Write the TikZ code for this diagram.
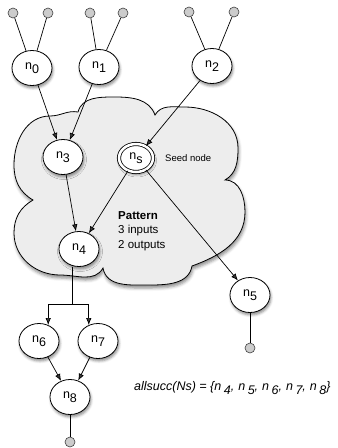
\documentclass[tikz,border=0pt]{standalone}
\usepackage{fontspec}
\setmainfont{Liberation Sans}
\usetikzlibrary{shapes.geometric,arrows.meta,shadows.blur}

\newcommand{\nsub}[1]{n\raisebox{-3.5pt}{#1}}
\newcommand{\nsucc}[1]{n\kern2.5pt\raisebox{-4pt}{#1}}

\begin{document}
\begin{tikzpicture}[x=1pt, y=1pt,
    vert/.style={ellipse, draw, line width=0.8pt, fill=white,
        minimum width=40pt, minimum height=35pt, inner sep=0pt,
        font=\fontsize{12.5}{14}\selectfont,
        blur shadow={shadow xshift=1pt, shadow yshift=-2.5pt,
            shadow blur radius=2.5pt, shadow opacity=45}},
    port/.style={circle, draw=black!75, fill=black!20, line width=0.6pt,
        minimum size=10pt, inner sep=0pt},
    wire/.style={line width=0.7pt},
    arr/.style={wire, -{Latex[length=7pt,width=5.5pt]}}]

    \useasboundingbox (0,0) rectangle (338,-448);

    % Облако шаблона
    \draw[fill=black!7, line width=0.8pt,
        blur shadow={shadow xshift=1pt, shadow yshift=-3pt,
            shadow blur radius=3pt, shadow opacity=45}]
        (78,-112) to[out=75,in=180] (115,-97) to[out=0,in=110] (155,-115)
        to[out=60,in=180] (185,-107) to[out=0,in=90] (238,-148)
        to[out=-90,in=30] (225,-180)
        to[out=0,in=90] (245,-212) to[out=-90,in=20] (192,-266)
        to[out=-100,in=0] (150,-285) to[out=180,in=-80] (103,-268)
        to[out=-120,in=0] (60,-275) to[out=180,in=-90] (14,-233)
        to[out=90,in=-150] (33,-200)
        to[out=150,in=-90] (14,-165) to[out=90,in=180] (50,-116)
        to[out=0,in=170] (78,-112) -- cycle;

    % Входы
    \node[port] (i0a) at (13,-13) {};
    \node[port] (i0b) at (48,-13) {};
    \node[port] (i1a) at (90,-13) {};
    \node[port] (i1b) at (123,-13) {};
    \node[port] (i2a) at (189,-12) {};
    \node[port] (i2b) at (234,-12) {};

    % Вершины
    \node[vert] (n0) at (32,-68) {\nsub{0}};
    \node[vert] (n1) at (99,-67) {\nsub{1}};
    \node[vert] (n2) at (212,-66) {\nsub{2}};
    \node[vert] (n3) at (63,-157) {\nsub{3}};
    \node[vert, double, double distance=2.5pt,
        minimum width=34pt, minimum height=28pt] (ns) at (136,-158) {\nsub{s}};
    \node[vert] (n4) at (79,-249) {\nsub{4}};
    \node[vert] (n5) at (250,-295) {\nsub{5}};
    \node[vert] (n6) at (39,-341) {\nsub{6}};
    \node[vert] (n7) at (98,-341) {\nsub{7}};
    \node[vert] (n8) at (70,-397) {\nsub{8}};

    % Выходы
    \node[port] (o5) at (250,-348) {};
    \node[port] (o8) at (70,-442) {};

    % Подписи
    \node[anchor=west, inner sep=0pt, font=\fontsize{9.5}{11}\selectfont]
        (seed) at (165,-158) {Seed node};
    \node[anchor=north west, align=left, inner sep=0pt,
        font=\fontsize{11.5}{14.5}\selectfont]
        (pat) at (118,-211) {\textbf{Pattern}\\3 inputs\\2 outputs};
    \node[anchor=west, inner sep=0pt, font=\fontsize{12.5}{14}\selectfont\itshape]
        (succ) at (134,-388)
        {allsucc(Ns) = \{\nsucc{4},\kern4pt\nsucc{5},\kern4pt\nsucc{6},%
         \kern4pt\nsucc{7},\kern4pt\nsucc{8}\}};

    % Входные линии
    \draw[wire] (i0a) -- (n0);
    \draw[wire] (i0b) -- (n0);
    \draw[wire] (i1a) -- (n1);
    \draw[wire] (i1b) -- (n1);
    \draw[wire] (i2a) -- (n2);
    \draw[wire] (i2b) -- (n2);

    % Дуги графа
    \draw[arr] (n0) -- (n3);
    \draw[arr] (n1) -- (n3);
    \draw[arr] (n2) -- (ns);
    \draw[arr] (n3) -- (n4);
    \draw[arr] (ns) -- (n4);
    \draw[arr] (ns) -- (n5);
    \draw[arr] (n6) -- (n8);
    \draw[arr] (n7) -- (n8);

    % Разветвление из n4
    \coordinate (split) at (72,-304);
    \draw[wire] (split |- n4.south) -- (split);
    \draw[arr] (split) -| (n6.60);
    \draw[arr] (split) -| (n7.120);

    % Выходные линии
    \draw[wire] (n5) -- (o5);
    \draw[wire] (n8) -- (o8);
\end{tikzpicture}
\end{document}
